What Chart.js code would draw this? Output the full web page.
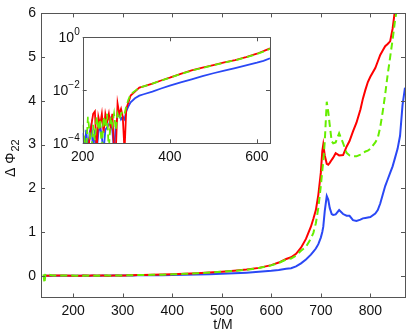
<!DOCTYPE html>
<html>
<head>
<meta charset="utf-8">
<script src="https://cdn.jsdelivr.net/npm/chart.js@4"></script>
<style>
body{margin:0;background:#fff}
#wrap{position:relative;width:407px;height:334px}
#mainChart{position:absolute;left:0;top:0}
#insetChart{position:absolute;left:20px;top:20px}
</style>
</head>
<body>
<div id="wrap">
<canvas id="mainChart" width="407" height="334"></canvas>
<canvas id="insetChart" width="255" height="150"></canvas>
</div>
<script>
// t/M samples shared by the three curves
const tVals = [140,142,144,160,180,
200,204,208,212,216,220,224,228,232,236,240,244,248,252,256,260,264,268,272,276,280,284,288,292,296,300,305,310,
320,330,340,360,380,400,425,450,475,500,525,550,575,600,615,630,
640,650,660,670,680,685,690,695,700,703,705,708,712,715,718,722,725,730,737,745,752,758,765,772,780,785,790,795,800,810,815,820,825,830,835,840,845,850,855,860,865,870]

const redVals = [0,0,0,0.0005,0.0008,
0.00005,0.00005,0.00005,0.00005,0.00016,0.0005,0.0013,0.0016,0.00005,0.001,0.0005,0.0013,0.00025,0.0013,0.00063,0.0013,0.0004,0.0013,0.00005,0.00005,0.0032,0.0013,0.002,0.001,0.00005,0.002,0.0035,0.0063,
0.0089,0.0126,0.0141,0.0178,0.0234,0.030,0.042,0.056,0.071,0.089,0.112,0.138,0.178,0.24,0.30,0.38,
0.42,0.5,0.64,0.84,1.12,1.3,1.5,1.85,2.35,2.85,3.0,2.75,2.56,2.54,2.58,2.65,2.7,2.8,2.75,2.76,2.95,3.08,3.3,3.5,3.8,4.05,4.25,4.43,4.55,4.75,4.9,5.05,5.15,5.25,5.3,5.36,5.65,6.1,6.4,6.8,7.1,7.5]

const greenVals = [0.03,-0.17,0.04,0.0005,0.0008,
0.0005,0.00013,0.00005,0.001,0.00025,0.00005,0.0005,0.00013,0.001,0.00032,0.0008,0.00005,0.001,0.0004,0.0013,0.00005,0.001,0.0005,0.0013,0.00032,0.0013,0.0008,0.0013,0.0016,0.0013,0.0025,0.0045,0.007,
0.0095,0.0126,0.014,0.018,0.023,0.030,0.041,0.055,0.070,0.088,0.11,0.135,0.175,0.235,0.29,0.37,
0.39,0.46,0.57,0.66,0.85,0.98,1.2,1.55,2.05,2.4,2.62,3.07,3.98,3.75,3.45,3.07,3.03,3.05,3.26,3.03,2.81,2.75,2.73,2.73,2.77,2.81,2.84,2.86,2.9,3.05,3.15,3.4,3.75,4.15,4.6,5.0,5.4,5.85,6.2,6.5,6.8,7.1]

const blueVals = [0,0,0,0.0003,0.0004,
0.00025,0.00005,0.00032,0.00005,0.00025,0.0005,0.00005,0.00032,0.00005,0.00025,0.0005,0.00016,0.00005,0.00032,0.0004,0.0005,0.0008,0.00032,0.00005,0.0005,0.001,0.0013,0.0008,0.001,0.0008,0.0016,0.0025,0.0035,
0.005,0.0063,0.0071,0.0089,0.0117,0.015,0.020,0.026,0.034,0.044,0.055,0.069,0.087,0.11,0.13,0.16,
0.17,0.21,0.28,0.37,0.48,0.55,0.62,0.72,0.87,1.0,1.12,1.48,1.82,1.74,1.55,1.41,1.39,1.4,1.5,1.41,1.37,1.37,1.27,1.25,1.28,1.31,1.32,1.33,1.34,1.42,1.5,1.65,1.85,2.05,2.2,2.35,2.5,2.7,2.9,3.2,3.9,4.3]

const mainXTicks = [200,300,400,500,600,700,800]
const mainYTicks = [0,1,2,3,4,5,6]
const insetXTicks = [200,400,600]
const insetYTicks = [0.0001,0.01,1]
const insetYExp = ['\u22124','\u22122','0']

const FAM = '"Liberation Sans", Arial, sans-serif'
const FONT = {family:FAM, size:14}

function pts(tmin,tmax,vals,positive){
let out = []
tVals.forEach((t,i)=>{
if(t>=tmin && t<=tmax && (!positive || vals[i]>0)){
out.push({x:t,y:vals[i]})
}
})
return out
}

function makeSets(tmin,tmax,positive,w){
return [
{label:'b',data:pts(tmin,tmax,greenVals,positive),borderColor:'#66ee00',borderDash:[7,4],borderWidth:w},
{label:'a',data:pts(tmin,tmax,redVals,positive),borderColor:'#ff0000',borderWidth:w},
{label:'c',data:pts(tmin,tmax,blueVals,positive),borderColor:'#2a48f5',borderWidth:w}
]
}

// matlab style frame with inward ticks on all four sides
const frame = {
id:'frame',
beforeDraw(chart){
if(chart.canvas.id=='mainChart'){
let c = chart.ctx
c.save()
c.fillStyle = '#fff'
c.fillRect(0,0,chart.width,chart.height)
c.restore()
}
},
afterDraw(chart){
let c = chart.ctx
let a = chart.chartArea
let L = 4
c.save()
c.strokeStyle = '#555'
c.lineWidth = 1
c.beginPath()
chart.scales.x.ticks.forEach(tk=>{
let px = Math.round(chart.scales.x.getPixelForValue(tk.value))+0.5
c.moveTo(px,a.bottom); c.lineTo(px,a.bottom-L)
c.moveTo(px,a.top); c.lineTo(px,a.top+L)
})
chart.scales.y.ticks.forEach(tk=>{
let py = Math.round(chart.scales.y.getPixelForValue(tk.value))+0.5
c.moveTo(a.left,py); c.lineTo(a.left+L,py)
c.moveTo(a.right,py); c.lineTo(a.right-L,py)
})
c.stroke()
c.strokeRect(Math.round(a.left)+0.5,Math.round(a.top)+0.5,Math.round(a.right-a.left),Math.round(a.bottom-a.top))
c.restore()
}
}

// y title with a real subscript
const yTitle = {
id:'yTitle',
afterDraw(chart){
let c = chart.ctx
c.save()
c.translate(15,177)
c.rotate(-Math.PI/2)
c.fillStyle = '#111'
c.textBaseline = 'alphabetic'
c.font = '14px '+FAM
let main = '\u0394 \u03A6'
c.fillText(main,0,0)
let w = c.measureText(main).width
c.font = '11px '+FAM
c.fillText('22',w+1,4)
c.restore()
}
}

// 10 with raised exponent for the log axis
const logLabels = {
id:'logLabels',
afterDraw(chart){
let c = chart.ctx
let a = chart.chartArea
let sy = chart.scales.y
c.save()
c.fillStyle = '#111'
c.textAlign = 'right'
insetYTicks.forEach((v,i)=>{
let py = sy.getPixelForValue(v)
c.font = '10px '+FAM
c.textBaseline = 'alphabetic'
let right = a.left-3
c.fillText(insetYExp[i],right,py-2)
let ew = c.measureText(insetYExp[i]).width
c.font = '14px '+FAM
c.textBaseline = 'middle'
c.fillText('10',right-ew,py+1)
})
c.restore()
}
}

new Chart(document.getElementById('mainChart'),{
type:'line',
data:{datasets:makeSets(135,870,false,2)},
options:{
responsive:false,
animation:false,
layout:{padding:{top:11,right:2,left:0,bottom:0}},
elements:{point:{radius:0},line:{tension:0}},
plugins:{legend:{display:false},tooltip:{enabled:false}},
scales:{
x:{
type:'linear',min:135,max:870,
grid:{display:false,drawTicks:false},border:{display:false},
afterBuildTicks:s=>{s.ticks = mainXTicks.map(v=>({value:v}))},
afterFit:s=>{s.height = 36.5},
ticks:{font:FONT,color:'#111',padding:5,maxRotation:0},
title:{display:true,text:'t/M',font:FONT,color:'#111',padding:{top:-5,bottom:0}}
},
y:{
min:-0.5,max:6,
grid:{display:false,drawTicks:false},border:{display:false},
afterBuildTicks:s=>{s.ticks = mainYTicks.map(v=>({value:v}))},
afterFit:s=>{s.width = 41},
ticks:{font:FONT,color:'#111',padding:5}
}
}
},
plugins:[frame,yTitle]
})

new Chart(document.getElementById('insetChart'),{
type:'line',
data:{datasets:makeSets(195,635,true,1.8)},
options:{
responsive:false,
animation:false,
layout:{padding:{top:17.3,right:5,left:0,bottom:0}},
elements:{point:{radius:0},line:{tension:0}},
plugins:{legend:{display:false},tooltip:{enabled:false}},
scales:{
x:{
type:'linear',min:200,max:630,
grid:{display:false,drawTicks:false},border:{display:false},
afterBuildTicks:s=>{s.ticks = insetXTicks.map(v=>({value:v}))},
afterFit:s=>{s.height = 26.7},
ticks:{font:FONT,color:'#111',padding:5,maxRotation:0}
},
y:{
type:'logarithmic',min:0.0001,max:1,
grid:{display:false,drawTicks:false},border:{display:false},
afterBuildTicks:s=>{s.ticks = insetYTicks.map(v=>({value:v}))},
afterFit:s=>{s.width = 62.7},
ticks:{display:false}
}
}
},
plugins:[frame,logLabels]
})
</script>
</body>
</html>
